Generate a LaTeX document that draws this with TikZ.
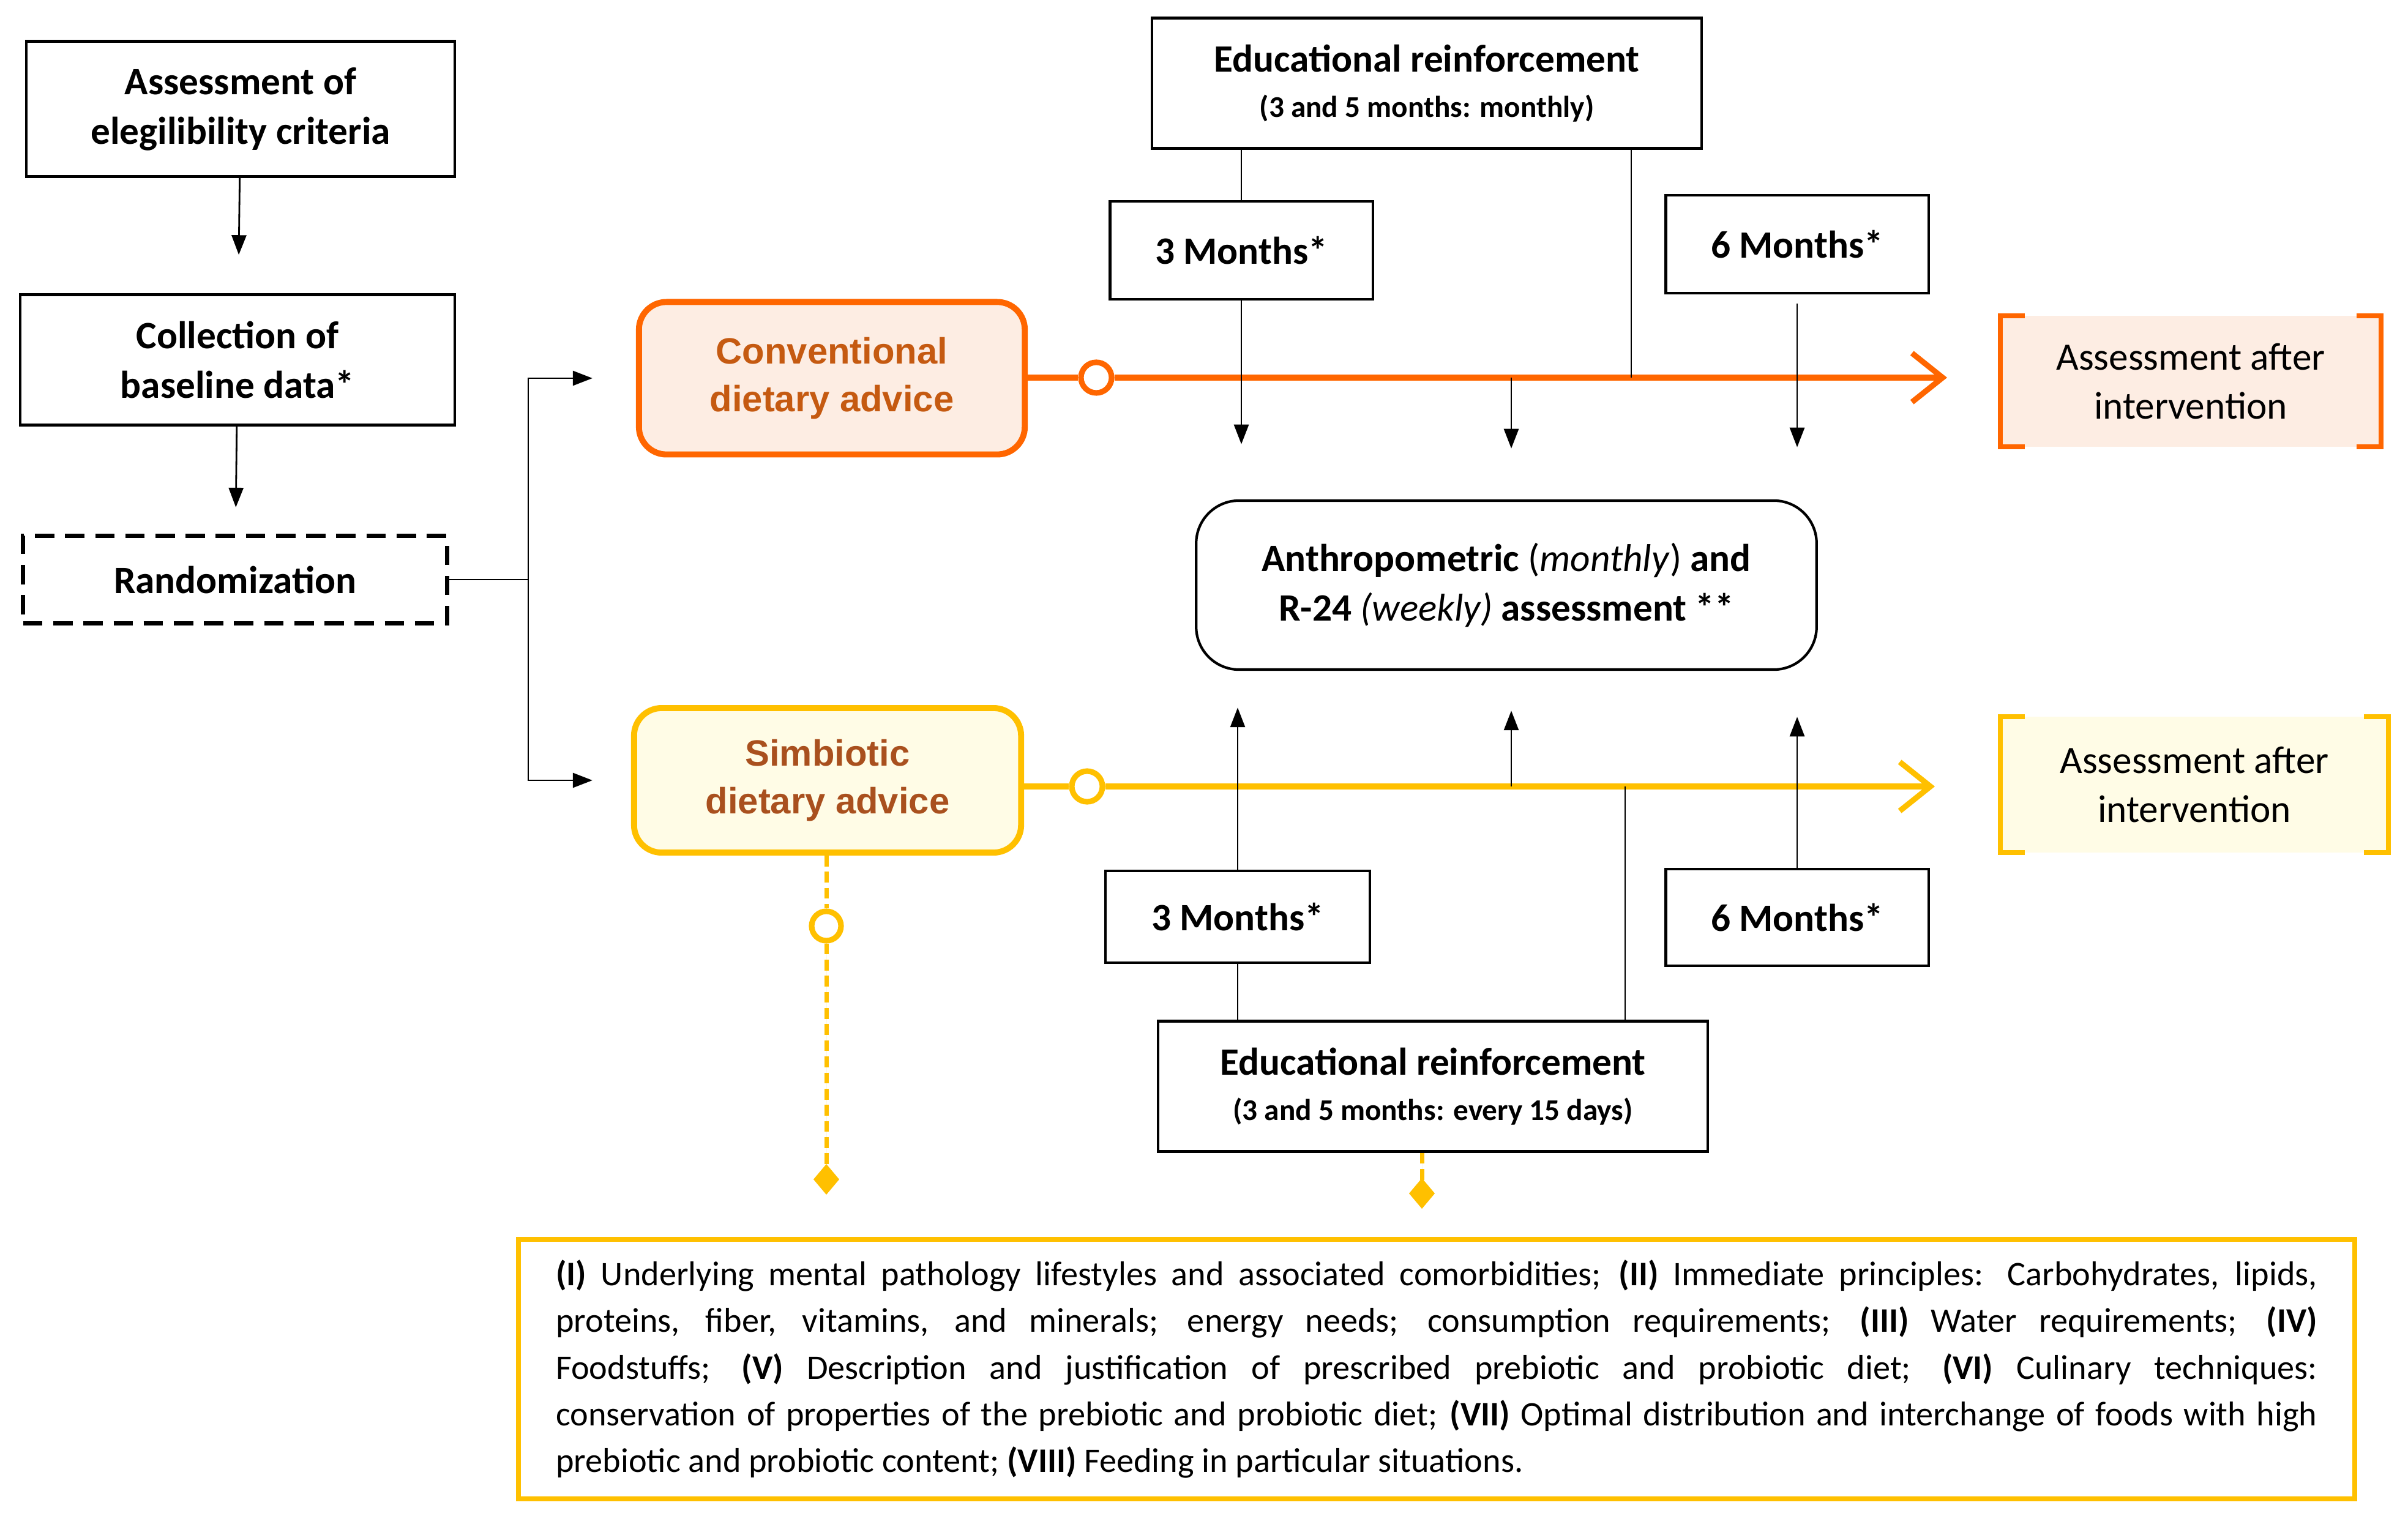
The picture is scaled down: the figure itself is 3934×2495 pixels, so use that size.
\documentclass[tikz,border=0pt]{standalone}
\usepackage{fontspec}
\setmainfont{Carlito}
\newfontfamily\armfont{Liberation Sans}
\usetikzlibrary{arrows.meta}

\definecolor{convline}{HTML}{FF6600}
\definecolor{convfill}{HTML}{FDEDE3}
\definecolor{convtext}{HTML}{C55A11}
\definecolor{simbline}{HTML}{FFC000}
\definecolor{simbfill}{HTML}{FFFCE6}
\definecolor{simbtext}{HTML}{A9501E}

\tikzset{
  box/.style={draw, line width=1.2pt, align=center, inner sep=2pt,
    font=\bfseries\fontsize{18}{23}\selectfont},
  armbox/.style={rounded corners=0.45cm, line width=2.8pt, align=center,
    font=\armfont\bfseries\fontsize{17}{22}\selectfont},
  postbox/.style={align=center, inner sep=2pt,
    font=\fontsize{18}{23}\selectfont},
  thinline/.style={line width=0.8pt},
  blackarrow/.style={thinline, -{Triangle[length=0.32cm,width=0.24cm]}},
  armline/.style={line width=2.6pt, -{Straight Barb[length=0.5cm,width=0.8cm]}},
  armdot/.style={circle, fill=white, line width=2.6pt, minimum size=0.5cm, inner sep=0pt},
  dotline/.style={line width=2pt, dash pattern=on 5pt off 2.5pt,
    -{Turned Square[length=0.5cm,width=0.42cm]}}
}

\begin{document}
\begin{tikzpicture}[x=0.01cm, y=-0.01cm]
\useasboundingbox (0,0) rectangle (3934,2495);

\node[box, minimum width=7cm, minimum height=2.21cm] (elig) at (393,178)
    {Assessment of\\elegilibility criteria};
\node[box, minimum width=7.1cm, minimum height=2.13cm] (base) at (388,588)
    {Collection of\\baseline data*};
\node[box, dashed, dash pattern=on 9pt off 5pt, line width=2pt,
    minimum width=6.92cm, minimum height=1.43cm] (rand) at (384,947) {Randomization};
\draw[blackarrow, shorten >=0.63cm] (elig) -- (base);
\draw[blackarrow, shorten >=0.43cm] (base) -- (rand);

\node[armbox, draw=convline, fill=convfill, text=convtext,
    minimum width=6.3cm, minimum height=2.49cm] (conv) at (1359,618)
    {Conventional\\dietary advice};
\node[armbox, draw=simbline, fill=simbfill, text=simbtext,
    minimum width=6.32cm, minimum height=2.36cm] (simb) at (1352,1275)
    {Simbiotic\\dietary advice};
\coordinate (fork) at (863,947);
\draw[thinline] (rand.east) -- (fork);
\draw[blackarrow] (fork) |- ([xshift=-0.71cm]conv.west);
\draw[blackarrow] (fork) |- ([xshift=-0.63cm]simb.west);

\node[armdot, draw=convline] (convdot) at (1791,617) {};
\coordinate (convend) at (3181,617);
\draw[line width=2.6pt, convline] (conv.east |- convdot) -- (convdot);
\draw[armline, convline] (convdot) -- (convend);
\node[armdot, draw=simbline] (simbdot) at (1776,1285) {};
\coordinate (simbend) at (3161,1285);
\draw[line width=2.6pt, simbline] (simb.east |- simbdot) -- (simbdot);
\draw[armline, simbline] (simbdot) -- (simbend);

\node[postbox, fill=convfill, minimum width=6.2cm, minimum height=2.13cm] (postA)
    at (3579,623) {Assessment after\\intervention};
\node[postbox, fill=simbfill, minimum width=6.32cm, minimum height=2.21cm] (postB)
    at (3585,1282) {Assessment after\\intervention};
\draw[convline, line width=2.4pt] ([xshift=0.4cm]postA.north west) -- (postA.north west)
    -- (postA.south west) -- ([xshift=0.4cm]postA.south west);
\draw[convline, line width=2.4pt] ([xshift=-0.4cm]postA.north east) -- (postA.north east)
    -- (postA.south east) -- ([xshift=-0.4cm]postA.south east);
\draw[simbline, line width=2.4pt] ([xshift=0.4cm]postB.north west) -- (postB.north west)
    -- (postB.south west) -- ([xshift=0.4cm]postB.south west);
\draw[simbline, line width=2.4pt] ([xshift=-0.4cm]postB.north east) -- (postB.north east)
    -- (postB.south east) -- ([xshift=-0.4cm]postB.south east);

\node[box, rounded corners=0.7cm, minimum width=10.13cm, minimum height=2.76cm] (anthro)
    at (2461,956) {Anthropometric \textmd{(\textit{monthly})} and\\
    R-24 \textmd{\textit{(weekly)}} assessment **};

\node[box, minimum width=8.98cm, minimum height=2.13cm] (edutop) at (2331,136)
    {Educational reinforcement\\[-2pt]{\fontsize{14}{18}\selectfont(3 and 5 months: monthly)}};
\node[box, minimum width=4.29cm, minimum height=1.6cm] (m3top) at (2028,409) {3 Months*};
\node[box, minimum width=4.29cm, minimum height=1.6cm] (m6top) at (2936,399) {6 Months*};
\coordinate (convjoin) at (2665,617);
\coordinate (convmid) at (2469,617);
\draw[thinline] (m3top.north) -- (m3top.north |- edutop.south);
\draw[thinline] (edutop.south -| convjoin) -- (convjoin);
\draw[blackarrow, shorten >=0.9cm] (m3top.south) -- (m3top.south |- anthro.north);
\draw[blackarrow, shorten >=0.83cm] (convmid) -- (convmid |- anthro.north);
\draw[blackarrow, shorten <=0.15cm, shorten >=0.85cm] (m6top.south) -- (m6top.south |- anthro.north);

\node[box, minimum width=8.98cm, minimum height=2.13cm] (edubot) at (2341,1775)
    {Educational reinforcement\\[-2pt]{\fontsize{14}{18}\selectfont(3 and 5 months: every 15 days)}};
\node[box, minimum width=4.32cm, minimum height=1.5cm] (m3bot) at (2022,1498) {3 Months*};
\node[box, minimum width=4.29cm, minimum height=1.58cm] (m6bot) at (2936,1499) {6 Months*};
\coordinate (simbjoin) at (2655,1285);
\coordinate (simbmid) at (2469,1285);
\draw[blackarrow, shorten >=0.6cm] (m3bot.north) -- (m3bot.north |- anthro.south);
\draw[blackarrow, shorten >=0.65cm] (simbmid) -- (simbmid |- anthro.south);
\draw[blackarrow, shorten >=0.75cm] (m6bot.north) -- (m6bot.north |- anthro.south);
\draw[thinline] (m3bot.south) -- (m3bot.south |- edubot.north);
\draw[thinline] (simbjoin) -- (simbjoin |- edubot.north);

\node[armdot, draw=simbline, minimum size=0.48cm] (notedot) at (1350,1513) {};
\coordinate (notetipA) at (1350,1952);
\coordinate (notetipB) at (2323,1975);
\draw[dotline, simbline, -] (simb.south -| notedot) -- (notedot);
\draw[dotline, simbline, fill=simbline] (notedot) -- (notetipA);
\draw[dotline, simbline, fill=simbline] (edubot.south -| notetipB) -- (notetipB);

\node[draw=simbline, line width=2.4pt, minimum width=29.98cm, minimum height=4.24cm,
    text width=28.76cm, align=justify, inner sep=0pt,
    font=\fontsize{16}{21.7}\selectfont] (notes) at (2347,2237)
    {\textbf{(I)} Underlying mental pathology lifestyles and associated comorbidities;
    \textbf{(II)} Immediate principles: Carbohydrates, lipids,\linebreak
    proteins, fiber, vitamins, and minerals; energy needs; consumption requirements;
    \textbf{(III)} Water requirements; \textbf{(IV)}\linebreak
    Foodstuffs; \textbf{(V)} Description and justification of prescribed prebiotic and
    probiotic diet; \textbf{(VI)} Culinary techniques:\linebreak
    conservation of properties of the prebiotic and probiotic diet; \textbf{(VII)} Optimal
    distribution and interchange of foods with high\linebreak
    prebiotic and probiotic content; \textbf{(VIII)} Feeding in particular situations.};
\end{tikzpicture}
\end{document}
